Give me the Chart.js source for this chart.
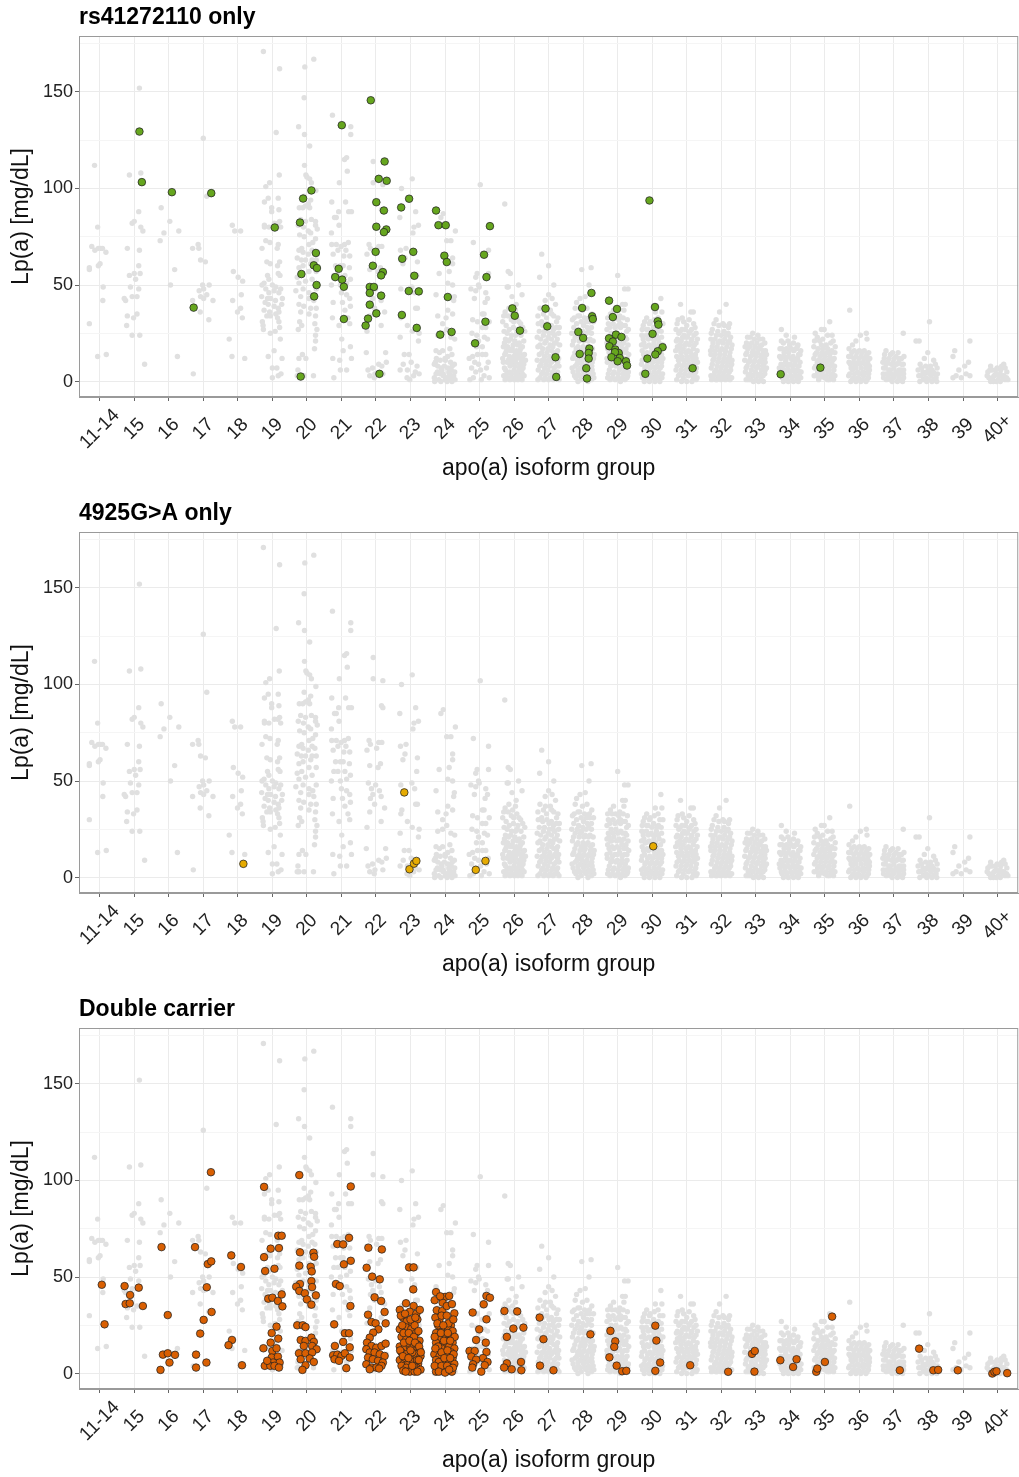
<!DOCTYPE html>
<html lang="en">
<head>
<meta charset="UTF-8" />
<title>Lp(a) by apo(a) isoform group</title>
<script src="https://cdn.jsdelivr.net/npm/chart.js"></script>
<style>
  body { margin: 0; background: #fff; width: 1019px; height: 1477px; overflow: hidden; position: relative; }
  .panel { position: absolute; left: 0; width: 1019px; height: 496px; overflow: hidden; }
</style>
</head>
<body>
<div class="panel" style="top:0"><canvas id="c1" width="1019" height="496"></canvas></div>
<div class="panel" style="top:496px"><canvas id="c2" width="1019" height="496"></canvas></div>
<div class="panel" style="top:992px"><canvas id="c3" width="1019" height="496"></canvas></div>
<script>
// apo(a) isoform groups on the x axis
const groups = ["11-14","15","16","17","18","19","20","21","22","23","24","25","26","27","28","29","30","31","32","33","34","35","36","37","38","39","40+"];
const yTicks = [0, 25, 50, 75, 100, 125, 150, 175];

// whole cohort (grey background), one string per group: "jitter(% of group width)/Lp(a)"
const grayByGroup = [
  "-15/112 -6/80 -23/70 -14/68 -4/69 3/69 8/69 18/67 -30/59 -30/58 -4/60 1/61 10/49 9/42 -30/30 -6/13 19/14",
  "15/152 -14/107 19/108 13/88 -6/82 0/83 19/80 25/78 -20/69 15/68 13/60 -14/55 0/56 17/56 4/53 -11/49 13/48 -29/43 -25/42 -6/44 8/44 -20/34 -2/33 8/35 -22/29 -6/24 16/24 30/9",
  "-22/90 -14/77 -25/73 3/83 29/78 17/58 5/50 25/13",
  "0/126 10/96 -31/69 -15/71 -13/69 -8/63 6/62 -2/50 17/50 -12/47 1/48 10/45 -31/42 -8/44 1/43 28/42 -9/36 16/32 -29/4",
  "-16/81 -9/78 8/78 -13/57 1/54 14/52 10/45 -15/42 8/38 -1/36 13/33 -25/22 -17/13 20/12",
  "-26/171 21/162 11/129 20/107 -8/103 -19/101 -12/95 17/95 -23/93 -2/90 -2/88 19/89 21/83 -23/81 -23/80 -10/80 6/82 16/82 24/80 -19/73 -7/72 17/71 14/69 -30/69 -16/62 -6/61 21/62 15/60 17/56 22/55 -14/55 -10/53 -24/51 -30/50 0/50 10/49 24/48 -19/48 -10/46 5/47 19/46 -31/44 -14/43 -5/43 9/42 29/43 -21/41 -12/40 5/39 17/38 27/40 -24/37 -8/36 10/35 19/36 -16/34 -6/34 15/33 -29/31 -27/29 -26/27 -6/25 8/26 19/31 21/28 23/22 5/16 -12/13 28/12 0/7 13/7 0/2 17/3 25/4",
  "20/167 -6/163 -8/147 -24/132 -7/128 8/122 -7/112 -3/107 0/106 8/105 13/103 26/99 -8/96 11/94 -22/90 -12/90 -4/91 4/92 8/90 -18/84 -4/83 13/84 25/83 -25/81 -10/80 4/78 25/81 30/79 -21/76 -8/75 11/77 25/74 17/72 6/71 -15/69 -23/68 -11/67 15/68 23/67 4/66 -28/64 -16/63 -4/63 15/63 27/63 11/61 -11/60 -23/59 -28/54 -15/55 6/57 27/57 15/53 -4/52 -23/51 -32/47 -11/48 6/46 17/45 27/48 -18/44 6/43 20/42 -23/40 -9/39 11/38 27/38 -18/36 6/35 25/34 -21/31 23/30 29/27 -25/27 -15/29 25/24 25/21 22/17 -13/14 -23/12 -3/12 -26/6 -23/3 -28/3 -8/3 19/3",
  "-26/138 27/132 27/128 9/115 15/116 17/109 -6/103 -28/93 12/93 21/88 29/88 -8/88 -15/85 -20/85 -7/81 -29/77 -28/71 -15/71 -1/70 9/71 20/72 -24/66 -10/68 13/68 24/65 7/65 -3/60 5/60 23/59 -17/60 -22/55 -10/55 10/55 26/53 15/51 -3/50 -29/50 0/46 15/45 24/43 3/41 -24/41 26/39 10/37 19/33 24/30 -26/33 -7/29 1/22 5/16 -5/11 26/18 29/12 -25/12 -3/6 15/6 -22/2",
  "-8/114 -8/103 20/102 16/89 20/88 -20/71 -16/69 8/70 17/70 2/67 -26/66 13/59 6/57 -18/58 -22/49 -1/48 -13/46 10/45 -9/43 -16/41 -4/38 15/42 -18/34 25/36 15/29 -26/26 -28/15 28/15 30/10 17/8 -10/7 -23/6 -18/3 -3/4 20/4 8/9 -5/2",
  "5/105 -26/100 -31/85 15/88 23/81 10/80 7/77 -29/68 -13/69 -16/64 -22/61 20/62 18/55 -28/48 4/49 12/46 20/38 15/38 -28/33 -25/35 -9/29 5/26 25/25 -30/23 23/21 -4/14 -18/14 -30/6 -9/6 25/4 -10/2 2/10 14/5 -21/9 9/3 -2/1 19/8",
  "-12/85 -5/87 30/78 5/73 17/73 22/64 22/61 -17/56 12/57 8/51 22/50 27/44 25/42 -26/45 8/37 22/35 3/33 -7/30 -21/34 -21/24 -7/25 5/27 17/23 28/22 -26/16 -16/15 -7/16 14/17 20/14 8/13 -31/9 -21/8 -11/7 -2/8 8/7 18/6 28/5 -26/4 -14/4 -5/3 5/2 15/3 25/3 -31/2 23/1 -18/1 1/1 11/1 -9/6 11/5 21/8 -25/12 1/11 -28/10 -14/11 0/12 16/10 27/9 -22/5 -6/4 12/4 -30/0 -12/0 6/0 20/0 29/1",
  "2/102 -18/72 26/68 -7/56 -11/54 -3/50 -25/48 -11/47 -1/49 -15/43 18/46 23/43 26/56 16/41 13/35 8/35 -20/32 -6/31 28/31 8/28 18/28 -22/25 -8/24 -3/21 14/23 23/22 8/18 -9/18 -20/13 8/14 18/14 -3/9 28/2 -23/7 -11/5 13/3 -18/2 3/6 -28/1 20/7 -30/12 -6/14 25/10 -14/10 5/1",
  "-27/92 -17/57 -11/56 13/50 -17/49 -20/49 23/45 -6/44 6/40 -15/38 4/37 -30/34 -17/34 -8/32 14/31 25/28 -23/29 -29/26 -14/27 -2/28 9/25 20/24 -25/22 -10/22 2/21 15/20 28/21 -31/18 -19/18 -6/17 7/16 19/17 -27/14 -14/13 -1/13 12/14 25/13 -31/10 -20/10 -8/9 4/10 16/9 28/9 -25/6 -13/5 0/6 10/5 22/6 -30/3 -18/2 -6/2 6/2 17/2 29/3 -11/12 20/12 -22/16 4/24 " +
    "-33/31 -4/35 8/33 19/30 31/26 -20/25 -7/24 11/27 -28/20 -16/21 -3/19 10/19 24/18 -24/15 -9/16 3/15 17/15 30/14 -33/12 -17/11 -5/11 8/12 21/10 -28/7 -12/8 2/8 14/7 26/7 -21/4 -9/4 4/4 13/3 24/4 -26/1 -12/1 1/1 11/1 23/1 33/11 -1/31 -26/36",
  "-20/66 0/60 -26/54 15/50 0/45 10/43 -10/42 20/40 -25/38 5/37 -15/35 15/34 27/33 -30/30 -20/31 -5/30 8/29 22/28 -27/26 -12/26 2/25 17/24 29/25 -23/22 -8/21 8/22 22/20 -31/18 -17/17 -2/17 12/18 26/16 -27/14 -12/13 3/13 18/12 29/12 -22/9 -7/9 8/10 22/8 -30/6 -16/5 -2/6 12/5 26/5 -25/2 -10/2 5/2 19/2 30/1 -18/11 15/15 " +
    "-31/34 -6/33 9/35 23/31 -17/29 1/28 14/27 31/28 -33/23 -15/24 -1/23 13/25 25/22 -25/19 -11/20 4/19 17/20 32/19 -20/15 -5/15 9/16 23/14 -33/11 -15/11 -1/11 13/11 26/10 -26/8 -12/7 3/8 16/7 30/8 -20/4 -6/4 9/4 23/4 -31/1 -14/1 0/1 13/1 26/2 -9/37",
  "-4/58 23/59 17/50 6/44 -9/43 -19/41 -23/38 -2/37 11/38 25/35 -15/34 -31/32 -6/31 10/31 24/28 -27/28 -13/27 -1/26 16/27 -23/23 -8/23 6/22 20/22 29/21 -31/19 -15/18 0/18 14/18 27/17 -24/15 -9/14 6/15 21/14 -30/12 -16/11 -2/11 13/11 26/10 -23/8 -8/7 7/8 21/7 -29/5 -14/4 1/5 16/4 29/4 -21/2 -6/1 9/2 24/1 -12/10 3/14 19/31 " +
    "-26/33 -10/34 4/33 18/33 30/31 -19/30 1/29 12/28 -33/25 -17/25 -4/24 9/25 24/25 -28/21 -12/21 2/21 15/21 -20/17 -6/16 8/17 22/16 32/14 -27/13 -11/12 3/12 17/12 30/12 -18/9 -3/9 11/9 25/8 -32/7 -15/6 -1/6 12/6 26/6 -25/3 -10/3 4/3 19/3 31/2 -15/0 14/0",
  "0/55 20/48 30/48 22/40 14/40 -12/37 -21/35 18/37 -6/33 6/34 28/32 -27/30 -13/30 2/29 15/29 26/26 -31/27 -19/25 -5/25 9/24 22/23 -25/21 -11/21 4/20 18/20 30/19 -29/17 -16/16 -2/16 12/17 25/15 -22/13 -8/12 6/13 20/12 -30/10 -16/9 -1/9 13/9 27/9 -24/6 -10/5 5/6 19/5 31/5 -29/2 -15/2 0/2 14/2 27/2 -20/19 8/28 " +
    "-29/33 -16/33 3/32 16/33 -23/28 -8/28 8/30 22/29 31/27 -27/23 -13/23 1/23 15/23 26/22 -31/20 -18/19 -3/19 11/19 24/17 -25/15 -11/15 4/15 18/15 32/14 -31/12 -15/11 -1/12 13/11 27/12 -20/8 -6/8 8/7 22/7 -27/4 -13/4 2/4 16/4 29/3 -22/1 -7/1 8/0 21/1",
  "25/43 9/36 28/36 -16/33 18/27 -6/31 -26/29 -12/27 4/28 22/30 -30/24 -17/24 -3/23 12/24 27/23 -24/20 -9/19 5/20 20/20 31/19 -29/16 -15/15 -1/16 14/15 27/14 -22/12 -7/11 8/12 22/11 -31/9 -16/8 -2/8 13/8 27/8 -24/5 -10/5 5/5 19/5 30/4 -28/2 -14/2 1/2 15/2 28/2 -20/18 10/22 " +
    "-22/31 -8/30 6/32 17/33 31/30 -29/27 -16/27 -1/26 13/26 26/26 -26/22 -11/22 3/22 18/22 -31/19 -19/18 -4/18 10/18 24/17 -25/14 -11/14 5/14 19/13 31/12 -29/11 -13/10 1/10 16/10 27/10 -21/7 -6/7 9/7 23/7 -31/4 -17/3 -3/3 11/3 25/3 -23/0 -8/0 8/0 22/0",
  "-18/40 12/36 19/36 -13/33 24/28 -28/30 -14/27 0/29 14/27 -23/25 -8/24 7/25 21/24 -30/21 -16/21 -1/20 13/21 27/20 -24/17 -10/17 5/16 19/17 30/16 -29/13 -15/13 0/13 14/13 27/12 -22/9 -7/9 8/9 22/9 -31/6 -16/6 -2/6 12/6 26/5 -24/3 -10/2 5/3 19/2 30/2 -27/18 -4/23 " +
    "-25/32 -9/31 7/32 20/30 -31/27 -19/26 -4/27 10/26 27/25 -27/22 -12/23 2/23 15/22 31/22 -20/19 -6/19 8/19 22/19 -32/16 -17/15 -3/15 11/15 25/14 -24/11 -9/11 4/11 18/11 31/10 -28/8 -13/8 1/7 15/8 28/7 -20/4 -6/4 9/4 23/4 -29/1 -15/0 0/0 15/0 27/1",
  "14/40 -5/36 24/30 -15/32 5/30 -26/27 -10/26 8/26 20/25 -30/22 -18/22 -4/21 10/22 24/21 -26/18 -12/18 2/17 16/18 29/17 -30/14 -18/14 -4/14 10/14 24/13 -24/11 -10/10 4/10 18/10 30/9 -29/7 -15/6 -1/7 13/6 27/6 -22/3 -8/3 6/3 20/3 30/2 -28/1 -15/1 12/1 " +
    "-21/30 -7/29 9/29 21/28 -29/25 -14/24 0/24 14/24 27/23 -24/20 -9/20 5/20 19/20 31/19 -31/16 -17/16 -3/16 12/16 25/15 -21/12 -7/12 8/12 21/12 31/11 -26/9 -12/8 2/8 15/8 27/8 -19/5 -5/5 9/5 23/5 -30/3 -13/1 -1/1 10/2 25/1",
  "-9/25 6/24 -16/23 20/22 -27/20 -12/20 3/20 17/19 -23/17 -8/16 7/17 21/16 -29/14 -15/13 0/13 14/13 26/12 -21/10 -6/10 9/10 22/9 -28/7 -13/6 2/7 16/6 27/6 -22/3 -8/3 7/3 21/3 -28/1 -14/1 1/1 15/1 -4/14 12/18 " +
    "-24/23 -4/22 11/22 26/20 -31/18 -18/18 -3/18 12/17 28/16 -26/15 -10/15 5/15 19/14 31/14 -32/11 -17/11 -2/11 14/11 27/10 -25/8 -9/8 6/8 20/8 31/7 -30/5 -16/4 -1/5 13/4 26/4 -21/1 -7/0 8/0 22/0",
  "-26/27 -12/24 12/23 -26/21 -2/19 22/19 30/16 -30/17 -18/15 -5/15 10/16 24/14 -27/12 -13/11 2/12 16/11 28/10 -22/8 -8/8 7/8 21/8 -30/5 -15/5 0/5 14/5 27/5 -24/2 -10/2 5/2 19/2 30/2 -20/13 8/11 " +
    "-20/20 -7/21 9/20 20/18 -24/17 -11/17 3/17 17/17 28/14 -31/13 -19/13 -6/13 8/13 21/12 -27/9 -14/10 -1/9 13/9 25/8 -32/7 -19/6 -6/6 8/6 20/6 31/5 -26/3 -14/3 1/3 15/3 26/3 -20/0 -6/0 9/0 23/0",
  "14/31 -10/27 -2/27 -28/25 24/21 -15/21 -32/18 30/18 -20/17 -6/17 8/17 20/16 -28/14 -14/13 0/13 14/13 27/12 -22/10 -8/10 6/10 20/9 -30/7 -16/6 -2/6 12/6 26/6 -24/3 -10/3 4/3 18/3 29/3 -18/1 8/1 -8/14 16/12 " +
    "-22/23 -6/22 8/24 21/24 -30/21 -10/19 4/19 17/20 29/15 -24/15 -9/15 5/15 18/15 -32/12 -18/11 -4/11 10/11 23/11 -27/8 -12/8 2/8 16/8 28/8 -21/5 -7/5 9/5 22/4 -31/3 -16/2 -1/2 13/1 25/1",
  "-28/37 20/25 3/24 22/22 -10/21 -20/19 -30/17 -15/16 0/16 14/16 27/15 -25/13 -10/13 5/13 19/13 30/12 -30/10 -17/10 -3/10 11/10 25/9 -24/7 -10/7 5/7 19/7 29/6 -28/4 -14/4 0/4 15/4 27/4 -20/1 -6/1 9/1 22/1 " +
    "-22/15 -7/15 8/15 22/14 -31/13 -16/12 -1/12 13/12 25/11 -26/9 -12/8 2/9 16/9 29/8 -20/6 -5/5 10/5 24/5 -31/3 -17/2 -3/2 12/3 26/2 -25/0 -10/0 4/0 19/0",
  "27/25 -23/16 -4/15 12/15 29/13 -28/12 -14/12 1/12 16/12 -22/9 -7/9 8/9 22/9 -30/7 -15/6 0/7 15/6 28/6 -23/4 -8/4 7/4 22/4 -30/2 -16/2 -1/2 14/2 28/2 -10/1 20/1 " +
    "-27/14 -10/14 6/13 22/12 -32/10 -18/10 -2/10 14/10 27/9 -25/7 -10/6 6/5 21/6 -31/4 -15/4 0/3 14/4 28/4 -22/1 -5/0 10/0 25/0",
  "3/31 -36/21 -27/21 -2/15 15/11 -12/12 -24/9 -8/8 6/8 20/9 -30/6 -16/5 0/6 14/5 26/4 -22/3 -8/2 8/3 22/2 -15/1 0/1 15/1 -20/7 -5/5 10/6 25/7 -28/3 -12/4 3/4 18/4 -25/0 -5/0 10/0 24/0",
  "20/21 -24/16 -29/13 16/10 5/8 -20/3 -29/2 9/4 -5/2 20/3 -12/6",
  "-20/8 18/9 -1/7 -25/2 -10/3 8/4 27/5 22/1 -16/6 2/1 12/8 -5/4 -28/5 26/2 -12/0 15/2 -22/6 -6/6 9/6 22/7 -30/3 -14/2 3/3 18/3 30/1 -20/0 -3/0 8/0"
];

// carriers: "x position in group units/Lp(a)"
const rsOnly = "1.15/129.5 1.22/103.3 2.09/98.1 3.23/97.6 2.72/38.3 5.07/79.8 6.13/99 5.89/94.8 5.8/82.4 6.26/66.6 6.2/60.2 6.29/58.8 5.84/55.7 6.28/50 6.21/44.1 5.82/2.6 7.85/145.7 7.01/132.8 8.25/114 8.08/105 8.31/104 8.01/92.9 8.23/88.6 8.01/80.2 8.3/78.8 8.23/77.4 7.99/67.2 7.91/60 8.2/56.7 8.15/55 7.82/49 7.94/49 7.82/45.9 8.15/44.5 7.82/39.8 8.01/35.3 7.77/32.6 7.7/29 8.1/4 6.92/58.4 6.82/54.1 7.02/52.8 7.07/49.1 7.07/32.4 8.73/90.2 8.96/94.7 8.76/63.6 9.08/67.2 9.11/54.8 8.95/46.9 9.24/46.7 8.75/34.5 9.18/27.8 9.74/88.6 9.81/81 10.02/81 9.98/65.2 10.05/61.9 10.08/43.8 9.86/24.3 10.19/25.7 11.3/80.5 11.13/65.7 11.2/54.1 11.17/31 10.87/19.8 11.95/37.9 12.02/34.1 12.17/26.4 12.91/37.8 12.96/28.6 13.2/12.6 13.22/2.4 13.97/38.1 14.24/45.9 14.26/33.8 14.28/32.4 13.86/25.7 14.0/22.6 13.9/14.3 14.18/17.1 14.16/14.8 14.16/11.9 14.09/6.9 14.11/1.6 14.75/41.9 14.98/37.6 14.86/33.4 14.95/24.3 15.11/23.1 14.75/22.4 14.86/20.7 14.76/18.3 14.93/16.6 15.03/14.8 14.92/15.2 14.82/12.6 15.06/12.2 15.0/10.5 15.24/10.5 15.27/8.3 15.92/93.8 16.08/38.6 16.16/31.2 16.18/29.5 16.01/24.7 16.3/17.8 16.16/15.7 16.09/14 15.86/11.9 15.8/4 17.17/6.9 19.72/3.8 20.87/7.2";

const g4925Only = "4.16/7.1 8.82/44.1 8.97/4.3 9.1/7.2 9.17/8.6 10.89/4 11.17/8.6 16.03/16.2";

const doubleCarrier = "0.06/46 0.14/25.5 0.72/45.3 1.13/44.5 0.88/40.7 0.75/36 0.87/36.4 1.25/35 " +
  "1.79/65.5 1.97/30.3 1.83/9.8 1.97/10.5 2.18/9.7 2.02/5.7 1.76/1.9 " +
  "3.22/104.3 2.76/65.5 3.13/56.7 3.23/58.1 3.1/44.7 3.24/31.9 3.01/27.8 2.91/20.7 2.79/9.8 3.09/5.7 2.79/3.1 " +
  "3.81/61.2 4.09/55.2 3.83/17.4 3.73/14.7 4.12/4.3 " +
  "4.76/96.7 5.17/71.4 5.27/71.4 4.95/64.7 5.19/65 4.76/60.3 4.79/53.1 5.06/54.3 4.88/38.8 5.0/39.3 5.16/37.6 5.27/41 5.29/34.8 5.12/24.3 4.98/21 5.17/18.1 4.95/16 4.74/13.1 5.0/11.7 5.12/13.1 4.98/8.3 5.16/8.8 5.02/5.7 5.21/5.7 4.78/4 4.94/4 5.06/4 5.19/3.1 4.85/6.6 " +
  "5.78/102.8 5.8/62.8 6.19/62.6 6.21/60.5 5.78/55.9 6.11/55.3 6.14/52.9 5.8/46.4 5.69/45 6.13/47.9 6.15/44.8 5.78/42.8 5.94/41.6 6.26/40.5 6.0/38.4 6.13/35.7 5.72/25 5.88/25 5.96/24.1 5.82/17.4 5.96/16.9 6.13/18.6 6.2/16.4 5.91/14.3 6.15/14.3 6.28/12.6 5.77/10.5 5.96/10.5 6.15/10.9 6.08/7.8 5.82/7.4 6.2/6 5.96/4.3 5.87/1.9 " +
  "7.27/96.9 6.88/67.1 7.05/66.9 7.22/70.3 7.07/56.6 7.27/58.4 6.84/46.4 6.95/45.3 7.26/35 6.79/25.5 7.1/20.9 7.22/20.9 7.05/16.4 6.81/14.3 7.24/13.6 6.76/9.5 6.88/9.8 7.0/9.1 7.1/10.5 7.24/8.3 6.8/7.4 6.93/6.6 7.14/2.8 " +
  "7.78/65.2 8.17/64.3 7.73/54.8 7.89/50.2 8.11/48.8 7.96/39.5 8.15/37.6 8.25/31.9 7.77/30.5 7.87/26.7 7.99/26 8.28/26 8.07/22.9 7.92/21.2 7.82/18.6 7.74/16 7.87/14.3 8.01/13.4 8.16/14.3 8.28/15.5 7.72/12.6 7.82/10.9 7.96/10.9 8.11/10 8.25/9.1 7.77/8.3 7.91/7.4 8.06/6.6 8.2/5.7 7.72/4.8 7.87/3.1 8.01/3.1 8.16/4 7.82/2.2 8.09/2.6 " +
  "8.96/55 9.09/55 9.08/43.6 8.87/36.4 9.09/35 8.69/33 8.98/32 9.17/31 8.78/29 8.89/27 9.06/26 9.2/28 8.69/23 8.86/24 9.02/23 9.16/21 8.74/19 8.88/18 9.07/19 9.26/17 8.69/14 8.83/13 8.98/14 9.12/12 9.27/12 8.74/11 8.88/10 9.02/9 9.16/10 9.29/9 8.69/7 8.83/6 8.93/5 9.07/6 9.22/5 8.74/4 8.88/3 9.02/2 9.17/3 9.29/2 8.79/1.5 8.98/1 9.12/1 8.92/16 9.2/15 9.05/11 8.8/21 9.12/25 " +
  "8.72/30 8.84/31 9.0/28 9.14/29 9.27/33 8.76/25 8.95/21 9.1/19 9.23/22 8.81/16 8.97/17 9.13/16 9.25/14 8.7/12 8.86/8 9.0/12 9.19/7 9.3/11 8.78/9 8.94/8 9.09/4 9.24/7 8.86/1 9.05/4 9.2/1 " +
  "9.74/42.2 10.0/39.7 10.12/40.2 9.93/36.7 9.76/32.8 9.92/32.4 10.27/31.2 9.84/28.1 10.17/25 10.07/24 9.88/23 9.74/21 9.98/20 10.17/20 9.84/18 10.03/17 10.22/16 9.74/16 9.93/15 10.12/14 10.27/13 9.79/12 9.98/11 10.17/11 9.69/10 9.84/9 10.03/9 10.22/8 9.74/7 9.93/6 10.12/6 10.27/5 9.79/4 9.98/3 10.17/3 9.88/2 10.07/1.5 9.74/1 10.2/1 9.9/13 10.1/26 9.8/25 " +
  "9.7/38 9.86/40 10.05/35 10.2/36 9.72/29 9.9/30 10.05/30 10.24/28 9.78/26 9.95/25 10.22/22 9.7/19 9.88/21 10.08/21 10.28/19 9.8/14 9.97/17 10.15/17 9.72/13 9.9/11 10.07/12 10.25/10 9.82/6 9.98/8 10.15/8 9.7/4 9.9/4 10.06/4 10.23/3 9.82/1 10.0/0.5 10.12/2 " +
  "10.8/31.6 11.2/40.2 11.3/39.3 11.12/35.9 11.2/28.1 10.99/22.9 10.9/17.4 11.18/16 10.71/11.7 10.86/11.7 11.2/11.2 10.76/8.8 11.1/8 10.9/7.2 11.23/6 10.81/4.8 11.15/4.3 10.79/3.1 11.05/1 " +
  "11.72/32.4 12.09/32.2 11.98/23.3 12.27/23.8 11.79/19 11.79/5.3 11.71/3.1 11.93/2.2 12.2/6 12.21/1.7 " +
  "12.74/29 12.85/17.8 12.75/4.1 13.14/1.7 14.21/20.3 14.79/22.1 14.93/16.7 14.9/13.8 14.76/8.4 14.97/4.1 15.13/1.2 15.25/1.4 16.09/24.8 16.12/17.1 16.23/5.7 16.09/1.4 17.1/4.3 18.2/0.9 18.89/10.2 18.97/11.7 18.96/1 19.71/6.9 20.08/3.4 20.18/7.4 20.75/0.9 20.78/2.6 21.0/6 21.21/29.5 23.17/1.7 23.73/12.9 24.14/1.7 24.28/1.9 24.85/1.7 25.85/0 25.91/0.9 25.97/1.2 26.28/0.2";

const FONT = "'Liberation Sans', Arial, Helvetica, sans-serif";
const PLOT_RIGHT = 1018; // right edge of the panel in the original

function pairs(str) {
  return str.trim().split(/\s+/).map(s => s.split("/").map(Number));
}

const grayPoints = [];
grayByGroup.forEach((str, i) => {
  pairs(str).forEach(([off, v]) => grayPoints.push({ x: i + off / 100, y: v }));
});

function toPoints(str) {
  return pairs(str).map(([x, y]) => ({ x: x, y: y }));
}

// panel title, border and the 45 degree group labels
const panelDeco = {
  id: "panelDeco",
  afterDraw(chart, args, opts) {
    const { ctx, chartArea } = chart;
    const xs = chart.scales.x;
    ctx.save();
    ctx.strokeStyle = "#9a9a9a";
    ctx.lineWidth = 1;
    ctx.strokeRect(chartArea.left + 0.5, chartArea.top + 0.5, chartArea.width - 1, chartArea.height - 1);

    ctx.font = "bold 23px " + FONT;
    ctx.fillStyle = "#000";
    ctx.textBaseline = "middle";
    ctx.textAlign = "left";
    ctx.fillText(opts.text, chartArea.left, 18);

    ctx.font = "19px " + FONT;
    ctx.fillStyle = "#222";
    ctx.textAlign = "center";
    groups.forEach((g, i) => {
      ctx.save();
      ctx.translate(xs.getPixelForValue(i), chartArea.bottom + 32);
      ctx.rotate(-Math.PI / 4);
      ctx.fillText(g, 0, 0);
      ctx.restore();
    });
    ctx.restore();
  }
};

function panelConfig(title, carriers, color) {
  return {
    type: "scatter",
    data: {
      datasets: [
        { data: toPoints(carriers), backgroundColor: color, borderColor: "#222", borderWidth: 0.75, pointRadius: 3.8, order: 1 },
        { data: grayPoints, backgroundColor: "#e0e0e0", borderWidth: 0, pointRadius: 2.7, order: 2 }
      ]
    },
    options: {
      responsive: false,
      animation: false,
      events: [],
      layout: { padding: { top: 36, right: 1, left: 0, bottom: 0 } },
      plugins: { legend: { display: false }, tooltip: { enabled: false }, panelDeco: { text: title } },
      scales: {
        x: {
          type: "linear",
          min: -0.6,
          max: 26.6,
          afterBuildTicks: s => { s.ticks = groups.map((g, i) => ({ value: i })); },
          afterFit: s => { s.height = 99; s.paddingLeft = 0; s.paddingRight = 0; },
          ticks: { display: false },
          grid: { color: "#ebebeb", tickLength: 4, tickColor: "#666" },
          border: { display: true, color: "#9a9a9a" },
          title: { display: true, text: "apo(a) isoform group", color: "#111", font: { size: 23, family: FONT }, padding: { top: 0, bottom: 14 } }
        },
        y: {
          min: -8,
          max: 179,
          afterBuildTicks: s => { s.ticks = yTicks.map(v => ({ value: v })); },
          afterFit: s => { s.width = 79; },
          ticks: {
            padding: 2, color: "#222",
            font: { size: 18, family: FONT },
            callback: v => (v % 50 === 0 ? v : "")
          },
          grid: {
            color: c => (c.tick && c.tick.value % 50 === 0 ? "#ebebeb" : "#f5f5f5"),
            tickLength: 4,
            tickColor: c => (c.tick && c.tick.value % 50 === 0 ? "#666" : "rgba(0,0,0,0)")
          },
          border: { display: true, color: "#9a9a9a" },
          title: { display: true, text: "Lp(a) [mg/dL]", color: "#111", font: { size: 23, family: FONT }, padding: { top: 8, bottom: 0 } }
        }
      }
    },
    plugins: [panelDeco]
  };
}

function makePanel(id, title, carriers, color) {
  const canvas = document.getElementById(id);
  let chart = new Chart(canvas, panelConfig(title, carriers, color));
  // Chart.js keeps a few px free on the right; widen the canvas so the panel ends where the original does
  const gap = Math.round(PLOT_RIGHT - chart.chartArea.right);
  if (gap !== 0) {
    chart.destroy();
    canvas.width = 1019 + gap;
    canvas.height = 496;
    canvas.style.width = (1019 + gap) + "px";
    canvas.style.height = "496px";
    chart = new Chart(canvas, panelConfig(title, carriers, color));
  }
}

makePanel("c1", "rs41272110 only", rsOnly, "#66a61e");
makePanel("c2", "4925G>A only", g4925Only, "#e6ab02");
makePanel("c3", "Double carrier", doubleCarrier, "#d95f02");
</script>
</body>
</html>
